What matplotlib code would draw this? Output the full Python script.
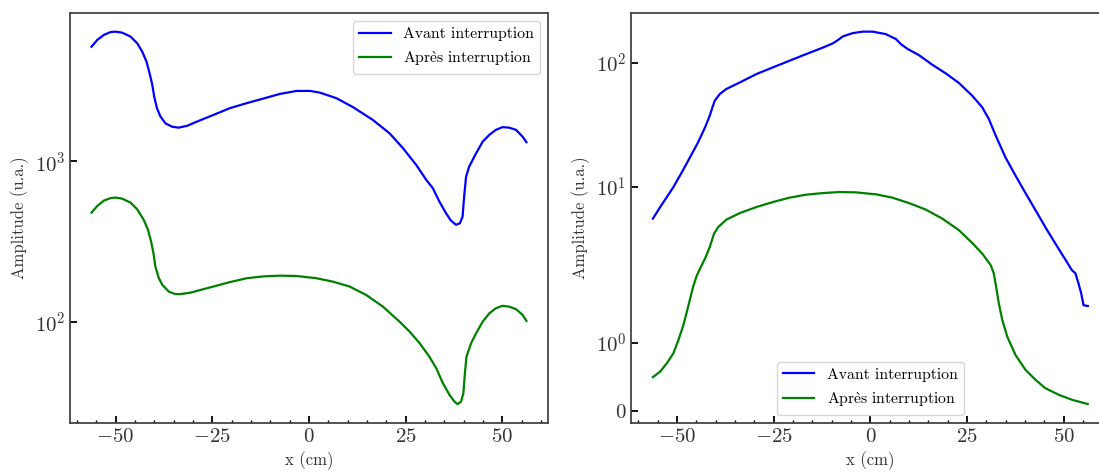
"""
Amplitude profiles before/after interruption (two panels).
"""
import numpy as np
import matplotlib
matplotlib.use('Agg')
import matplotlib.pyplot as plt
from matplotlib.ticker import AutoMinorLocator, NullLocator, MultipleLocator

plt.rcParams['font.family'] = 'serif'
plt.rcParams['font.serif'] = ['cmr10']
plt.rcParams['mathtext.fontset'] = 'cm'
plt.rcParams['axes.formatter.use_mathtext'] = True
plt.rcParams['axes.unicode_minus'] = True

labels = ['Avant interruption', r'$\mathrm{Apr\grave{e}s\ interruption}$']

# left panel (log scale)
x_avant_l = [-56.2, -54.7, -53.0, -51.3, -50.0, -48.3, -46.1, -44.4, -43.1, -42.0,
             -41.2, -40.5, -40.0, -39.3, -38.4, -37.1, -35.4, -33.7, -31.5, -29.0,
             -24.7, -20.4, -16.1, -11.8, -7.5, -3.2, 0.3, 2.8,
             7.1, 11.4, 16.5, 20.8, 24.3, 27.7, 30.3, 32.0, 33.7, 35.4, 36.7, 38.0,
             39.0, 39.7, 40.1, 40.6, 41.4, 43.2, 44.9, 46.6, 48.3, 50.0, 51.7, 53.5,
             55.2, 56.2]
y_avant_l = [5160, 5690, 6110, 6360, 6400, 6310, 5960, 5420, 4810, 4170,
             3530, 2990, 2520, 2140, 1900, 1720, 1640, 1617, 1660, 1762,
             1941, 2140, 2297, 2454, 2623, 2737, 2737, 2672,
             2466, 2168, 1807, 1493, 1205, 949, 766, 680, 561, 475, 427, 402,
             411, 452, 602, 802, 925, 1122, 1324, 1458, 1567, 1629, 1618, 1567,
             1422, 1313]

x_apres_l = [-56.2, -54.7, -53.0, -51.3, -50.0, -48.3, -46.1, -44.4, -42.7, -41.6,
             -40.8, -40.2, -39.7, -38.8, -37.9, -36.2, -34.5, -33.2, -30.7, -24.7,
             -20.4, -16.1, -11.8, -7.5, -3.2, 1.9, 6.2, 10.5, 14.8, 19.1, 23.4,
             26.0, 28.6, 31.1, 32.9, 34.6, 36.3, 37.6, 38.4, 39.3, 39.9, 40.3,
             40.7, 41.9, 43.2, 44.9, 46.6, 48.3, 50.0, 51.7, 53.5, 55.2, 56.2]
y_apres_l = [479, 527, 569, 589, 594, 585, 552, 502, 431, 374,
             316, 268, 221, 187, 170, 154, 149, 149, 152, 166,
             177, 187, 192, 194, 193, 187, 178, 166, 147, 124.5, 100.4,
             87.1, 73.7, 60.8, 51.5, 41.6, 35.2, 31.9, 30.8, 31.9, 36.0, 48.0,
             60.8, 73.7, 85.1, 100.4, 113, 121.6, 125.9, 124.5, 120, 110.6, 101.4]

# right panel
x_avant_r = [-56.2, -54.3, -52.6, -50.9, -48.7, -46.6, -44.5, -42.7, -41.5, -40.8,
             -40.2, -38.9, -37.2, -33.7, -29.4, -25.2, -20.9, -16.6, -12.3, -9.7,
             -8.4, -7.1, -4.6, -2.0, 0.6, 4.0, 6.6, 7.9, 9.6, 12.6, 16.0,
             19.5, 22.9, 26.3, 28.9, 30.6, 32.4, 34.9, 37.5, 40.1, 42.7, 45.2,
             47.8, 50.4, 52.1, 53.0, 53.8, 54.5, 55.1, 56.2]
y_avant_r = [6.27, 7.45, 8.63, 10.0, 13.2, 17.4, 23.0, 30.4, 37.7, 44.0,
             49.8, 56.3, 61.8, 69.8, 81.6, 92.2, 104.3, 118, 133, 144,
             153, 164, 174, 179, 179, 171, 156, 142, 130, 115.5, 96.9,
             82.5, 69.0, 54.6, 44.0, 35.5, 26.0, 17.4, 12.4, 9.15, 7.09, 5.54,
             4.34, 3.42, 2.92, 2.79, 2.40, 2.07, 1.74, 1.72]

x_apres_r = [-56.2, -54.3, -52.6, -50.9, -49.6, -48.3, -47.1, -45.8, -44.9, -44.0,
             -42.7, -41.5, -40.4, -39.3, -37.2, -33.7, -29.4, -25.2, -20.9, -16.6,
             -12.3, -8.0, -3.8, 1.5, 5.7, 10.0, 14.3, 18.6, 22.9, 26.3, 28.9,
             31.1, 31.9, 32.5, 33.2, 34.1, 35.4, 37.5, 40.1, 42.7, 45.2, 48.7,
             52.1, 56.2]
y_apres_r = [0.499, 0.580, 0.701, 0.846, 1.04, 1.30, 1.70, 2.29, 2.68, 3.00,
             3.48, 4.12, 5.02, 5.54, 6.18, 6.81, 7.45, 8.01, 8.55, 8.94,
             9.15, 9.29, 9.25, 8.98, 8.55, 7.89, 7.17, 6.27, 5.28, 4.38, 3.74,
             3.15, 2.79, 2.29, 1.79, 1.40, 1.09, 0.821, 0.604, 0.459, 0.339, 0.242,
             0.170, 0.107]

yticks_r = [0, 1, 10, 100]
yticklabels_r = ['$0$', '$10^{0}$', '$10^{1}$', '$10^{2}$']


# custom y scale of the right panel: linear below 1, then log decades of unequal length
def fwd(y):
    y = np.asarray(y, dtype=float)
    a = np.abs(y)
    p = np.where(a <= 1, a * 69.0,
                 np.where(a <= 10, 69.0 + 156.0 * np.log10(np.clip(a, 1, 10)),
                          225.0 + 124.4 * np.log10(np.maximum(a, 10) / 10)))
    return np.sign(y) * p


def inv(p):
    p = np.asarray(p, dtype=float)
    a = np.abs(p)
    y = np.where(a <= 69, a / 69.0,
                 np.where(a <= 225, 10 ** ((np.clip(a, 69, 225) - 69.0) / 156.0),
                          10 * 10 ** (np.clip(a - 225.0, 0, 2000) / 124.4)))
    return np.sign(p) * y


fig = plt.figure(figsize=(10.99, 4.72), dpi=100)
ax1 = fig.add_axes([0.0635, 0.1044, 0.4353, 0.868])
ax2 = fig.add_axes([0.5743, 0.1044, 0.4353, 0.868])

ax1.plot(x_avant_l, y_avant_l, color='b', lw=1.6, label=labels[0])
ax1.plot(x_apres_l, y_apres_l, color='g', lw=1.6, label=labels[1])
ax1.set_yscale('log')
ax1.yaxis.set_minor_locator(NullLocator())
ax1.legend(loc='upper right', fontsize=11.3)

ax2.plot(x_avant_r, y_avant_r, color='b', lw=1.6, label=labels[0])
ax2.plot(x_apres_r, y_apres_r, color='g', lw=1.6, label=labels[1])
ax2.set_yscale('function', functions=(fwd, inv))
ax2.set_yticks(yticks_r, yticklabels_r)
ax2.yaxis.set_minor_locator(NullLocator())
ax2.legend(loc='lower center', fontsize=11.3)

for ax in (ax1, ax2):
    ax.set_xlabel('x (cm)', fontsize=12, color='#333333')
    ax.set_ylabel('Amplitude (u.a.)', fontsize=12, color='#333333')
    ax.xaxis.set_major_locator(MultipleLocator(25))
    ax.xaxis.set_minor_locator(AutoMinorLocator(5))
    ax.tick_params(which='major', direction='in', length=5, width=1.3,
                   labelsize=15, labelcolor='#333333')
    ax.tick_params(which='minor', direction='in', length=2, width=1.0)
    for sp in ax.spines.values():
        sp.set_color('#444444')
        sp.set_linewidth(1.3)

fig.savefig('out.png', dpi=100)
